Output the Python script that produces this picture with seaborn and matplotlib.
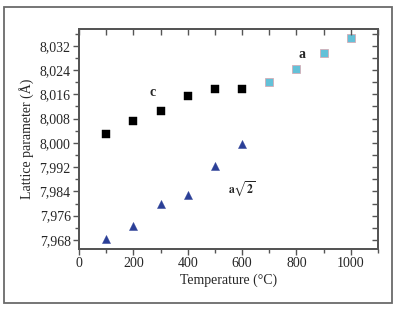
import numpy as np
import pandas as pd
import matplotlib
matplotlib.use("Agg")
import matplotlib.pyplot as plt
import seaborn as sns
from matplotlib.ticker import MultipleLocator, FuncFormatter
from matplotlib.patches import Rectangle

# Lattice parameters vs temperature
temp_c = [100, 200, 300, 400, 500, 600]
param_c = [8.0028, 8.0072, 8.0105, 8.0155, 8.0176, 8.0178]

temp_a = [700, 800, 900, 1000]
param_a = [8.0199, 8.0243, 8.0295, 8.0346]

temp_a2 = [100, 200, 300, 400, 500, 600]
param_a2 = [7.9682, 7.9727, 7.9798, 7.9829, 7.9925, 7.9995]

sns.set_style("ticks")
plt.rcParams['font.family'] = ['Liberation Serif', 'DejaVu Serif']
plt.rcParams['mathtext.fontset'] = 'stix'

fig = plt.figure(figsize=(3.99, 3.09), dpi=100)
ax = fig.add_axes([0.198, 0.194, 0.749, 0.712])

# outer frame
fig.patches.append(Rectangle((4 / 399, 6 / 309), 388 / 399, 296 / 309,
                             transform=fig.transFigure, fill=False,
                             edgecolor='#6a6a6a', linewidth=1.3))

sns.scatterplot(x=temp_c, y=param_c, ax=ax, marker='s', s=28,
                color='black', edgecolor='black', linewidth=0.3)
sns.scatterplot(x=temp_a, y=param_a, ax=ax, marker='s', s=32,
                color='#63c1d8', edgecolor='#d9a3ad', linewidth=0.5)
sns.scatterplot(x=temp_a2, y=param_a2, ax=ax, marker='^', s=34,
                color='#2b3f97', edgecolor='#2b3f97', linewidth=0.3)

ax.set_xlim(0, 1100)
ax.set_ylim(7.965, 8.0375)
ax.xaxis.set_major_locator(MultipleLocator(200))
ax.xaxis.set_minor_locator(MultipleLocator(100))
ax.yaxis.set_major_locator(MultipleLocator(0.008))
ax.yaxis.set_minor_locator(MultipleLocator(0.004))
ax.yaxis.set_major_formatter(FuncFormatter(lambda v, p: f"{v:.3f}".replace('.', ',')))

ax.tick_params(which='both', direction='out', top=False, right=False,
               color='#555555', labelsize=10, pad=2)
ax.tick_params(which='major', length=4, width=1)
ax.tick_params(which='minor', length=3, width=1)
ax2 = ax.twinx()
ax2.set_ylim(ax.get_ylim())
ax2.yaxis.set_major_locator(MultipleLocator(0.004))
ax2.tick_params(direction='in', length=4, width=1, color='#555555', labelright=False)
ax3 = ax.twiny()
ax3.set_xlim(ax.get_xlim())
ax3.xaxis.set_major_locator(MultipleLocator(100))
ax3.tick_params(direction='in', length=4, width=1, color='#555555', labeltop=False)

for a in (ax, ax2, ax3):
    for sp in a.spines.values():
        sp.set_color('#555555')
        sp.set_linewidth(1.2)

ax.set_xlabel('Temperature (°C)', fontsize=10, labelpad=2)
ax.set_ylabel('Lattice parameter (Å)', fontsize=10, labelpad=4)

ax.text(272, 8.0166, 'c', fontsize=10, fontweight='bold', ha='center', va='center')
ax.text(821, 8.0292, 'a', fontsize=10, fontweight='bold', ha='center', va='center')
ax.text(600, 7.9850, r'$\mathbf{a}\sqrt{\mathbf{2}}$', fontsize=8.5, ha='center', va='center')

fig.savefig('out.png', dpi=100)
